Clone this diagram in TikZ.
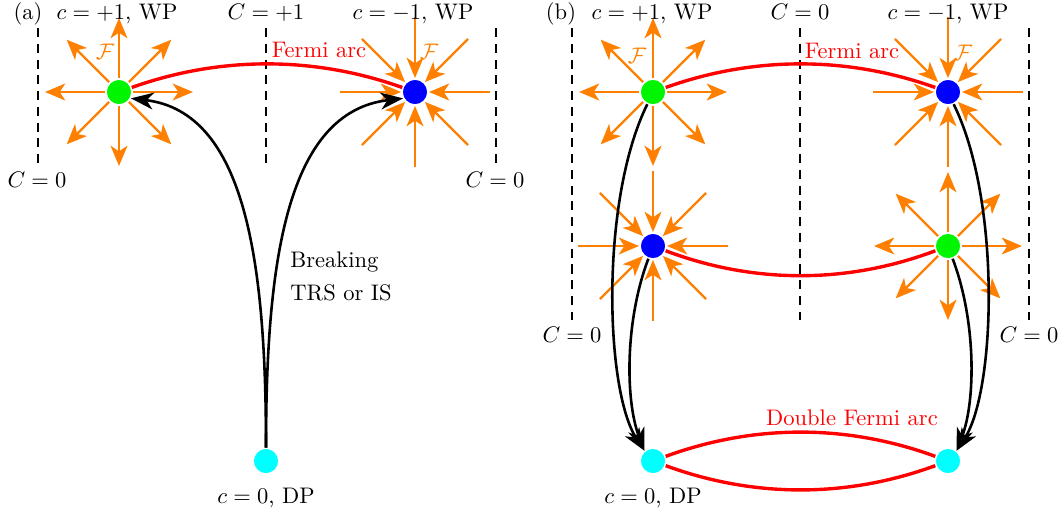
\documentclass[tikz,border=0pt]{standalone}
\usetikzlibrary{arrows.meta,calc}
\definecolor{forange}{RGB}{255,128,0}
\definecolor{wpgreen}{RGB}{0,245,0}
\definecolor{wpblue}{RGB}{0,0,255}
\definecolor{dpcyan}{RGB}{0,255,255}
\newcommand\srcstar[1]{\foreach \a in {0,45,...,315}{\draw[flux] ($(#1)+(\a:14)$) -- ($(#1)+(\a:74)$);}}
\newcommand\snkstar[1]{\foreach \a in {0,45,...,315}{\draw[flux] ($(#1)+(\a:75)$) -- ($(#1)+(\a:14)$);}}
\begin{document}
\begin{tikzpicture}[x=0.444pt,y=-0.444pt,
  wp/.style={circle,minimum size=11.4pt,inner sep=0pt,draw=white,line width=0.6pt},
  flux/.style={forange,line width=1.05pt,-{Stealth[length=9pt,width=7.5pt,inset=2.5pt]}},
  farc/.style={red,line width=1.5pt},
  flow/.style={black,line width=1.15pt,-{Stealth[length=10pt,width=7.5pt,inset=3pt]}},
  bound/.style={black,line width=1.1pt,dash pattern=on 4pt off 3pt},
  lbl/.style={inner sep=0pt,anchor=base},
  flbl/.style={inner sep=0pt,text=forange},
  rlbl/.style={inner sep=0pt,anchor=base,text=red}]
\useasboundingbox (0,0) rectangle (1064,515);

% ---------- (a) ----------
\draw[bound] (38,28) -- (38,166);
\draw[bound] (266,28) -- (266,166);
\draw[bound] (496,28) -- (496,166);

\node[wp,fill=wpgreen] (g1) at (119,92) {};
\node[wp,fill=wpblue] (b1) at (415,92) {};
\node[wp,fill=dpcyan] (d1) at (266,461) {};

\srcstar{g1}
\snkstar{b1}

\draw[farc] (g1) .. controls (220,56) and (314,56) .. (b1);
\draw[flow] (d1) .. controls (266,260) and (245,112) .. (g1.-28);
\draw[flow] (d1) .. controls (266,260) and (287,112) .. (b1.-152);

\node[lbl] (la) at (28,19) {(a)};
\node[lbl] (la1) at (117,19) {$c=+1$, WP};
\node[lbl] (la2) at (266,19) {$C=+1$};
\node[lbl] (la3) at (413,19) {$c=-1$, WP};
\node[lbl] (la4) at (37,187) {$C=0$};
\node[lbl] (la5) at (495,187) {$C=0$};
\node[rlbl] (la6) at (319,57) {Fermi arc};
\node[flbl] (la7) at (105,52) {$\mathcal{F}$};
\node[flbl] (la8) at (429,52) {$\mathcal{F}$};
\node[lbl,anchor=base west] (la9) at (290,267) {Breaking};
\node[lbl,anchor=base west] (la10) at (290,300) {TRS or IS};
\node[lbl] (la11) at (266,503) {$c=0$, DP};

% ---------- (b) ----------
\draw[bound] (572,28) -- (572,320);
\draw[bound] (800,28) -- (800,320);
\draw[bound] (1029,28) -- (1029,320);

\node[wp,fill=wpgreen] (g2) at (653,92) {};
\node[wp,fill=wpblue] (b2) at (948,92) {};
\node[wp,fill=wpblue] (b3) at (653,246) {};
\node[wp,fill=wpgreen] (g3) at (948,246) {};
\node[wp,fill=dpcyan] (d2) at (653,461) {};
\node[wp,fill=dpcyan] (d3) at (948,461) {};

\srcstar{g2}
\snkstar{b2}
\snkstar{b3}
\srcstar{g3}

\draw[farc] (g2) .. controls (754,56) and (847,56) .. (b2);
\draw[farc] (b3) .. controls (754,284) and (847,284) .. (g3);
\draw[farc] (d2) .. controls (754,424) and (847,424) .. (d3);
\draw[farc] (d2) .. controls (754,498) and (847,498) .. (d3);

\draw[flow] (g2.-115) .. controls (600,200) and (605,390) .. (d2.130);
\draw[flow] (b3.-110) .. controls (625,320) and (625,400) .. (d2.130);
\draw[flow] (b2.-65) .. controls (1001,200) and (996,390) .. (d3.50);
\draw[flow] (g3.-70) .. controls (976,320) and (976,400) .. (d3.50);

\node[lbl] (lb) at (561,19) {(b)};
\node[lbl] (lb1) at (652,19) {$c=+1$, WP};
\node[lbl] (lb2) at (800,19) {$C=0$};
\node[lbl] (lb3) at (948,19) {$c=-1$, WP};
\node[lbl] (lb4) at (572,342) {$C=0$};
\node[lbl] (lb5) at (1029,342) {$C=0$};
\node[rlbl] (lb6) at (852,58) {Fermi arc};
\node[flbl] (lb7) at (637,56) {$\mathcal{F}$};
\node[flbl] (lb8) at (963,53) {$\mathcal{F}$};
\node[rlbl] (lb9) at (852,425) {Double Fermi arc};
\node[lbl] (lb10) at (653,503) {$c=0$, DP};
\end{tikzpicture}
\end{document}
